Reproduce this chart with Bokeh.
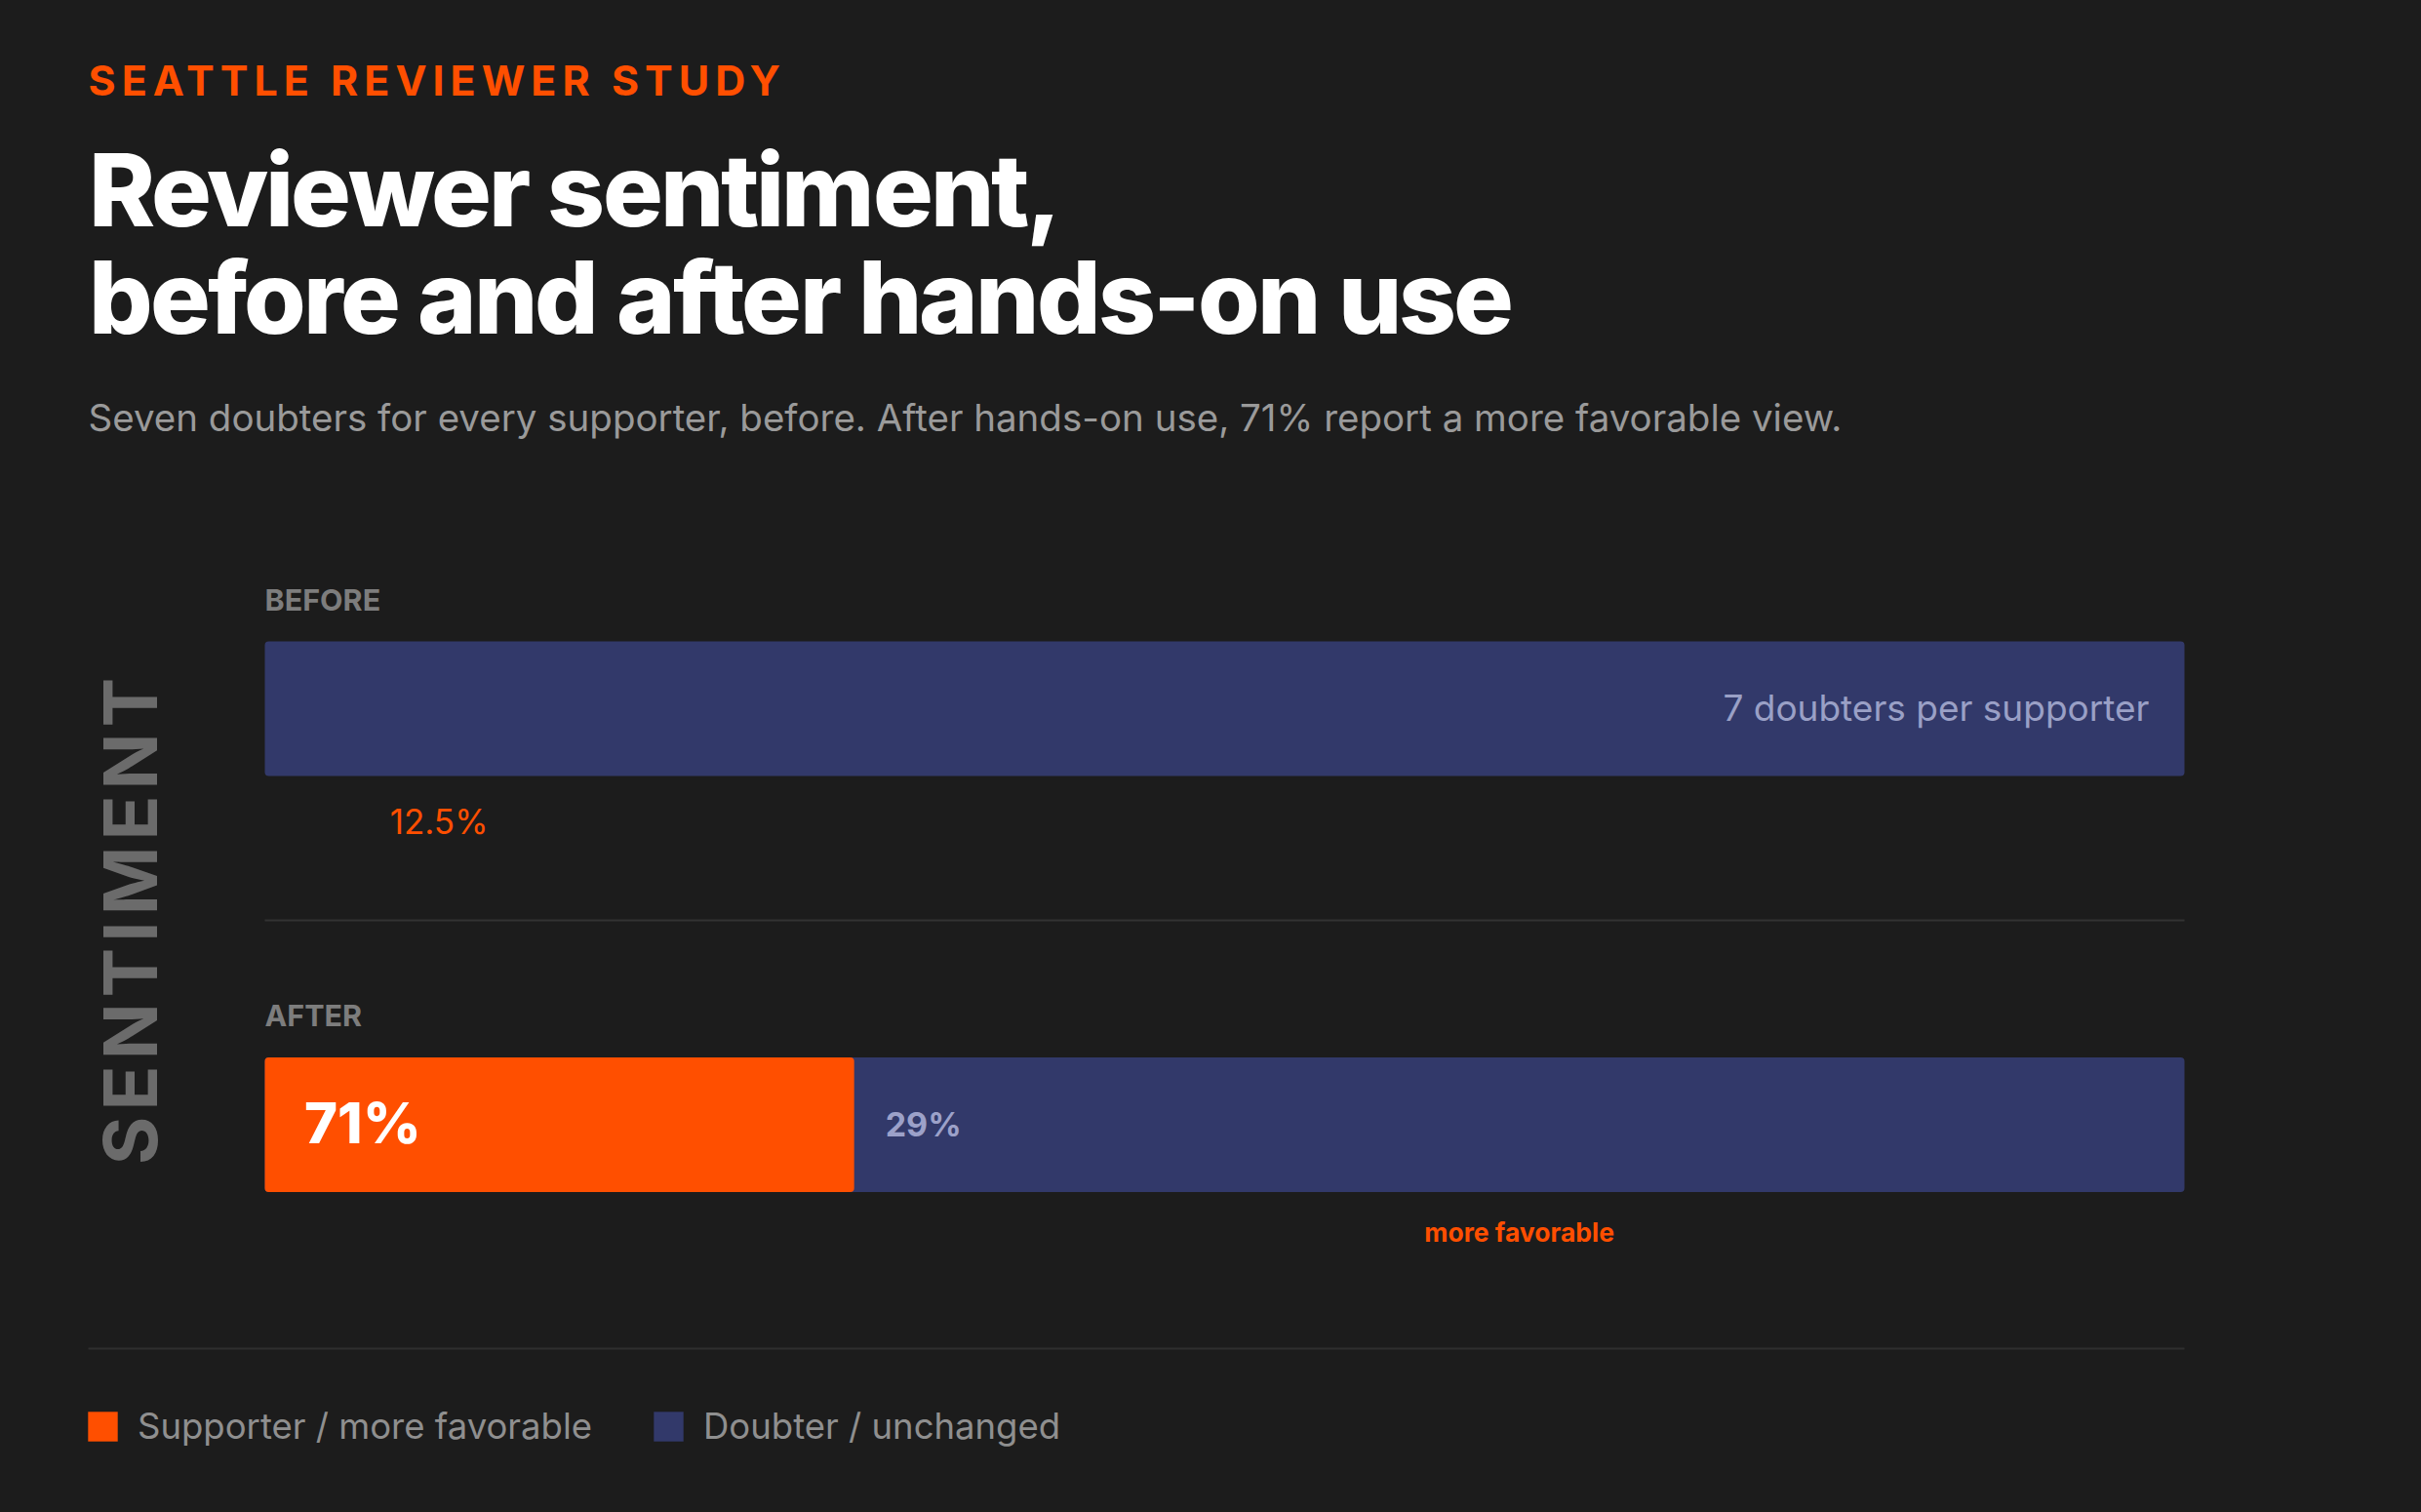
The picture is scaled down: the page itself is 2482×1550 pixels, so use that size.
from math import pi
from bokeh.plotting import figure
from bokeh.models import Range1d, Legend, LegendItem, ColumnDataSource
from bokeh.layouts import column, row
from bokeh.core.properties import value
from bokeh.embed import file_html
from bokeh.resources import INLINE

# ---------------- data ----------------
phases = ["BEFORE", "AFTER"]
supporter_pct = [12.5, 71]          # labelled shares (%)
doubter_pct = [87.5, 29]
doubters_per_supporter = 7
supporter_bar = [0.0, 30.7]         # orange segment length as drawn (% of bar)
doubter_bar = [100.0, 69.3]         # navy segment length as drawn (% of bar)

kicker_text = "SEATTLE REVIEWER STUDY"
title_lines = ["Reviewer sentiment,", "before and after hands-on use"]
subtitle_text = ("Seven doubters for every supporter, before. After hands-on use, "
                 "71% report a more favorable view.")
axis_title = "SENTIMENT"
legend_labels = ["Supporter / more favorable", "Doubter / unchanged"]

# ---------------- style ----------------
BG = "#1c1c1c"
ORANGE = "#ff4f00"
NAVY = "#32396a"
FONT = "Inter"
HEAVY = "TitleHeavy, Inter"
W = 2482


def bl(size):
    """shift so that the alphabetic baseline lands where intended"""
    return -0.375 * size


def base_fig(w, h, xr, yr):
    return figure(width=w, height=h, x_range=xr, y_range=yr,
                  x_axis_type=None, y_axis_type=None,
                  toolbar_location=None, output_backend="svg",
                  min_border=0, background_fill_color=BG,
                  border_fill_color=BG, outline_line_color=None)


def header_fig(h, spacing):
    p = base_fig(W, h, Range1d(0, W), Range1d(h, 0))
    p.styles = {"letter-spacing": spacing}
    return p


# kicker
kick = header_fig(120, "6px")
kick.text(x=[90], y=[98], text=[kicker_text], text_font=value(FONT),
          text_font_size="43px", text_font_style="bold", text_color=ORANGE,
          text_baseline="alphabetic", y_offset=bl(43))

# title
tfig = header_fig(260, "-2.8px")
tfig.text(x=[90] * len(title_lines), y=[113 + 110 * i for i in range(len(title_lines))],
          text=title_lines, text_font=value(HEAVY), text_font_size="103px",
          text_font_style="bold", text_color="#ffffff", text_baseline="alphabetic",
          y_offset=bl(103))

# subtitle
sfig = header_fig(100, "0px")
sfig.text(x=[90], y=[62], text=[subtitle_text], text_font=value(FONT),
          text_font_size="38.5px", text_color="#9a9a9a", text_baseline="alphabetic",
          y_offset=bl(38.5))

# vertical axis title
RH = 850
VW = 210
vfig = base_fig(VW, RH, Range1d(0, VW), Range1d(0, RH))
vfig.styles = {"letter-spacing": "6px"}
vfig.text(x=[132], y=[RH - 488], text=[axis_title], text_font=value(FONT),
          text_font_size="76px", text_font_style="bold", text_color="#6b6b6b",
          angle=pi / 2, text_align="center", text_baseline="middle")

# chart
CW = W - VW
px_per_pct = 19.68
left_px = 61
row_px = 426.5
first_center = 246
chart = base_fig(CW, RH,
                 Range1d(-left_px / px_per_pct, (CW - left_px) / px_per_pct),
                 Range1d((RH - first_center) / row_px, -first_center / row_px))

rows = list(range(len(phases)))
totals = [s + d for s, d in zip(supporter_bar, doubter_bar)]
src = ColumnDataSource(dict(y=rows, phase=phases, sup=supporter_bar, total=totals))
bar_h = 138 / row_px
chart.hbar(y="y", left=0, right="total", height=bar_h, source=src,
           fill_color=NAVY, line_color=None, border_radius=4)
chart.hbar(y="y", left=0, right="sup", height=bar_h, source=src,
           fill_color=ORANGE, line_color=None, border_radius=4)

# separator between rows
chart.segment(x0=[0], x1=[totals[0]], y0=[0.509], y1=[0.509],
              line_color="#333333", line_width=2)

# phase labels
chart.text(x=[0] * len(phases), y=rows, text=phases, text_font=value(FONT),
           text_font_size="30.5px", text_font_style="bold", text_color="#7d7d7d",
           text_baseline="alphabetic", y_offset=-101 + bl(30.5))

# before-row annotations
chart.text(x=[totals[0]], y=[0], text=[f"{doubters_per_supporter} doubters per supporter"],
           text_font=value(FONT), text_font_size="37px", text_color="#9aa0c6",
           text_align="right", text_baseline="alphabetic", x_offset=-36,
           y_offset=13 + bl(37))
chart.text(x=[supporter_pct[0]], y=[0], text=[f"{supporter_pct[0]}%"],
           text_font=value(FONT), text_font_size="35px", text_color=ORANGE,
           text_align="right", text_baseline="alphabetic", x_offset=-17,
           y_offset=129 + bl(35))

# after-row annotations
chart.text(x=[0], y=[1], text=[f"{supporter_pct[1]}%"], text_font=value(HEAVY),
           text_font_size="58px", text_font_style="bold", text_color="#ffffff",
           text_baseline="alphabetic", x_offset=40, y_offset=20 + bl(58))
chart.text(x=[supporter_bar[1]], y=[1], text=[f"{doubter_pct[1]}%"], text_font=value(FONT),
           text_font_size="34px", text_font_style="bold", text_color="#9ca1c9",
           text_baseline="alphabetic", x_offset=32, y_offset=12 + bl(34))
chart.text(x=[supporter_bar[1] + doubter_bar[1] / 2], y=[1], text=["more favorable"],
           text_font=value(FONT), text_font_size="26.5px", text_font_style="bold",
           text_color=ORANGE, text_align="center", text_baseline="alphabetic",
           y_offset=120 + bl(26.5))

# legend strip
LH = 1550 - 120 - 260 - 100 - RH
lfig = base_fig(W, LH, Range1d(0, W), Range1d(LH, 0))
lfig.segment(x0=[90], x1=[2239], y0=[52], y1=[52], line_color="#2e2e2e", line_width=2)
r1 = lfig.hbar(y="y", left=0, right="sup", height=1, source=src,
               fill_color=ORANGE, line_color=None, visible=False)
r2 = lfig.hbar(y="y", left=0, right="total", height=1, source=src,
               fill_color=NAVY, line_color=None, visible=False)
legend = Legend(items=[LegendItem(label=legend_labels[0], renderers=[r1]),
                       LegendItem(label=legend_labels[1], renderers=[r2])],
                orientation="horizontal", location=(86, LH - 133 - 21), padding=0,
                margin=0, spacing=59, label_standoff=17, glyph_width=38,
                glyph_height=38, label_text_font=FONT, label_text_font_size="36.5px",
                label_text_color="#8f8f8f", background_fill_alpha=0,
                border_line_alpha=0)
lfig.add_layout(legend)

layout = column(kick, tfig, sfig, row(vfig, chart), lfig)

html = file_html(layout, INLINE)
css = ("<style>html, body { background-color: %s; }\n"
       "@font-face { font-family: 'TitleHeavy'; font-weight: 700; "
       "src: local('Inter ExtraBold'), local('Inter-ExtraBold'), "
       "local('Inter Black'), local('Inter-Black'); }</style>" % BG)
html = html.replace("</head>", css + "</head>", 1)
open("out.html", "w").write(html)
